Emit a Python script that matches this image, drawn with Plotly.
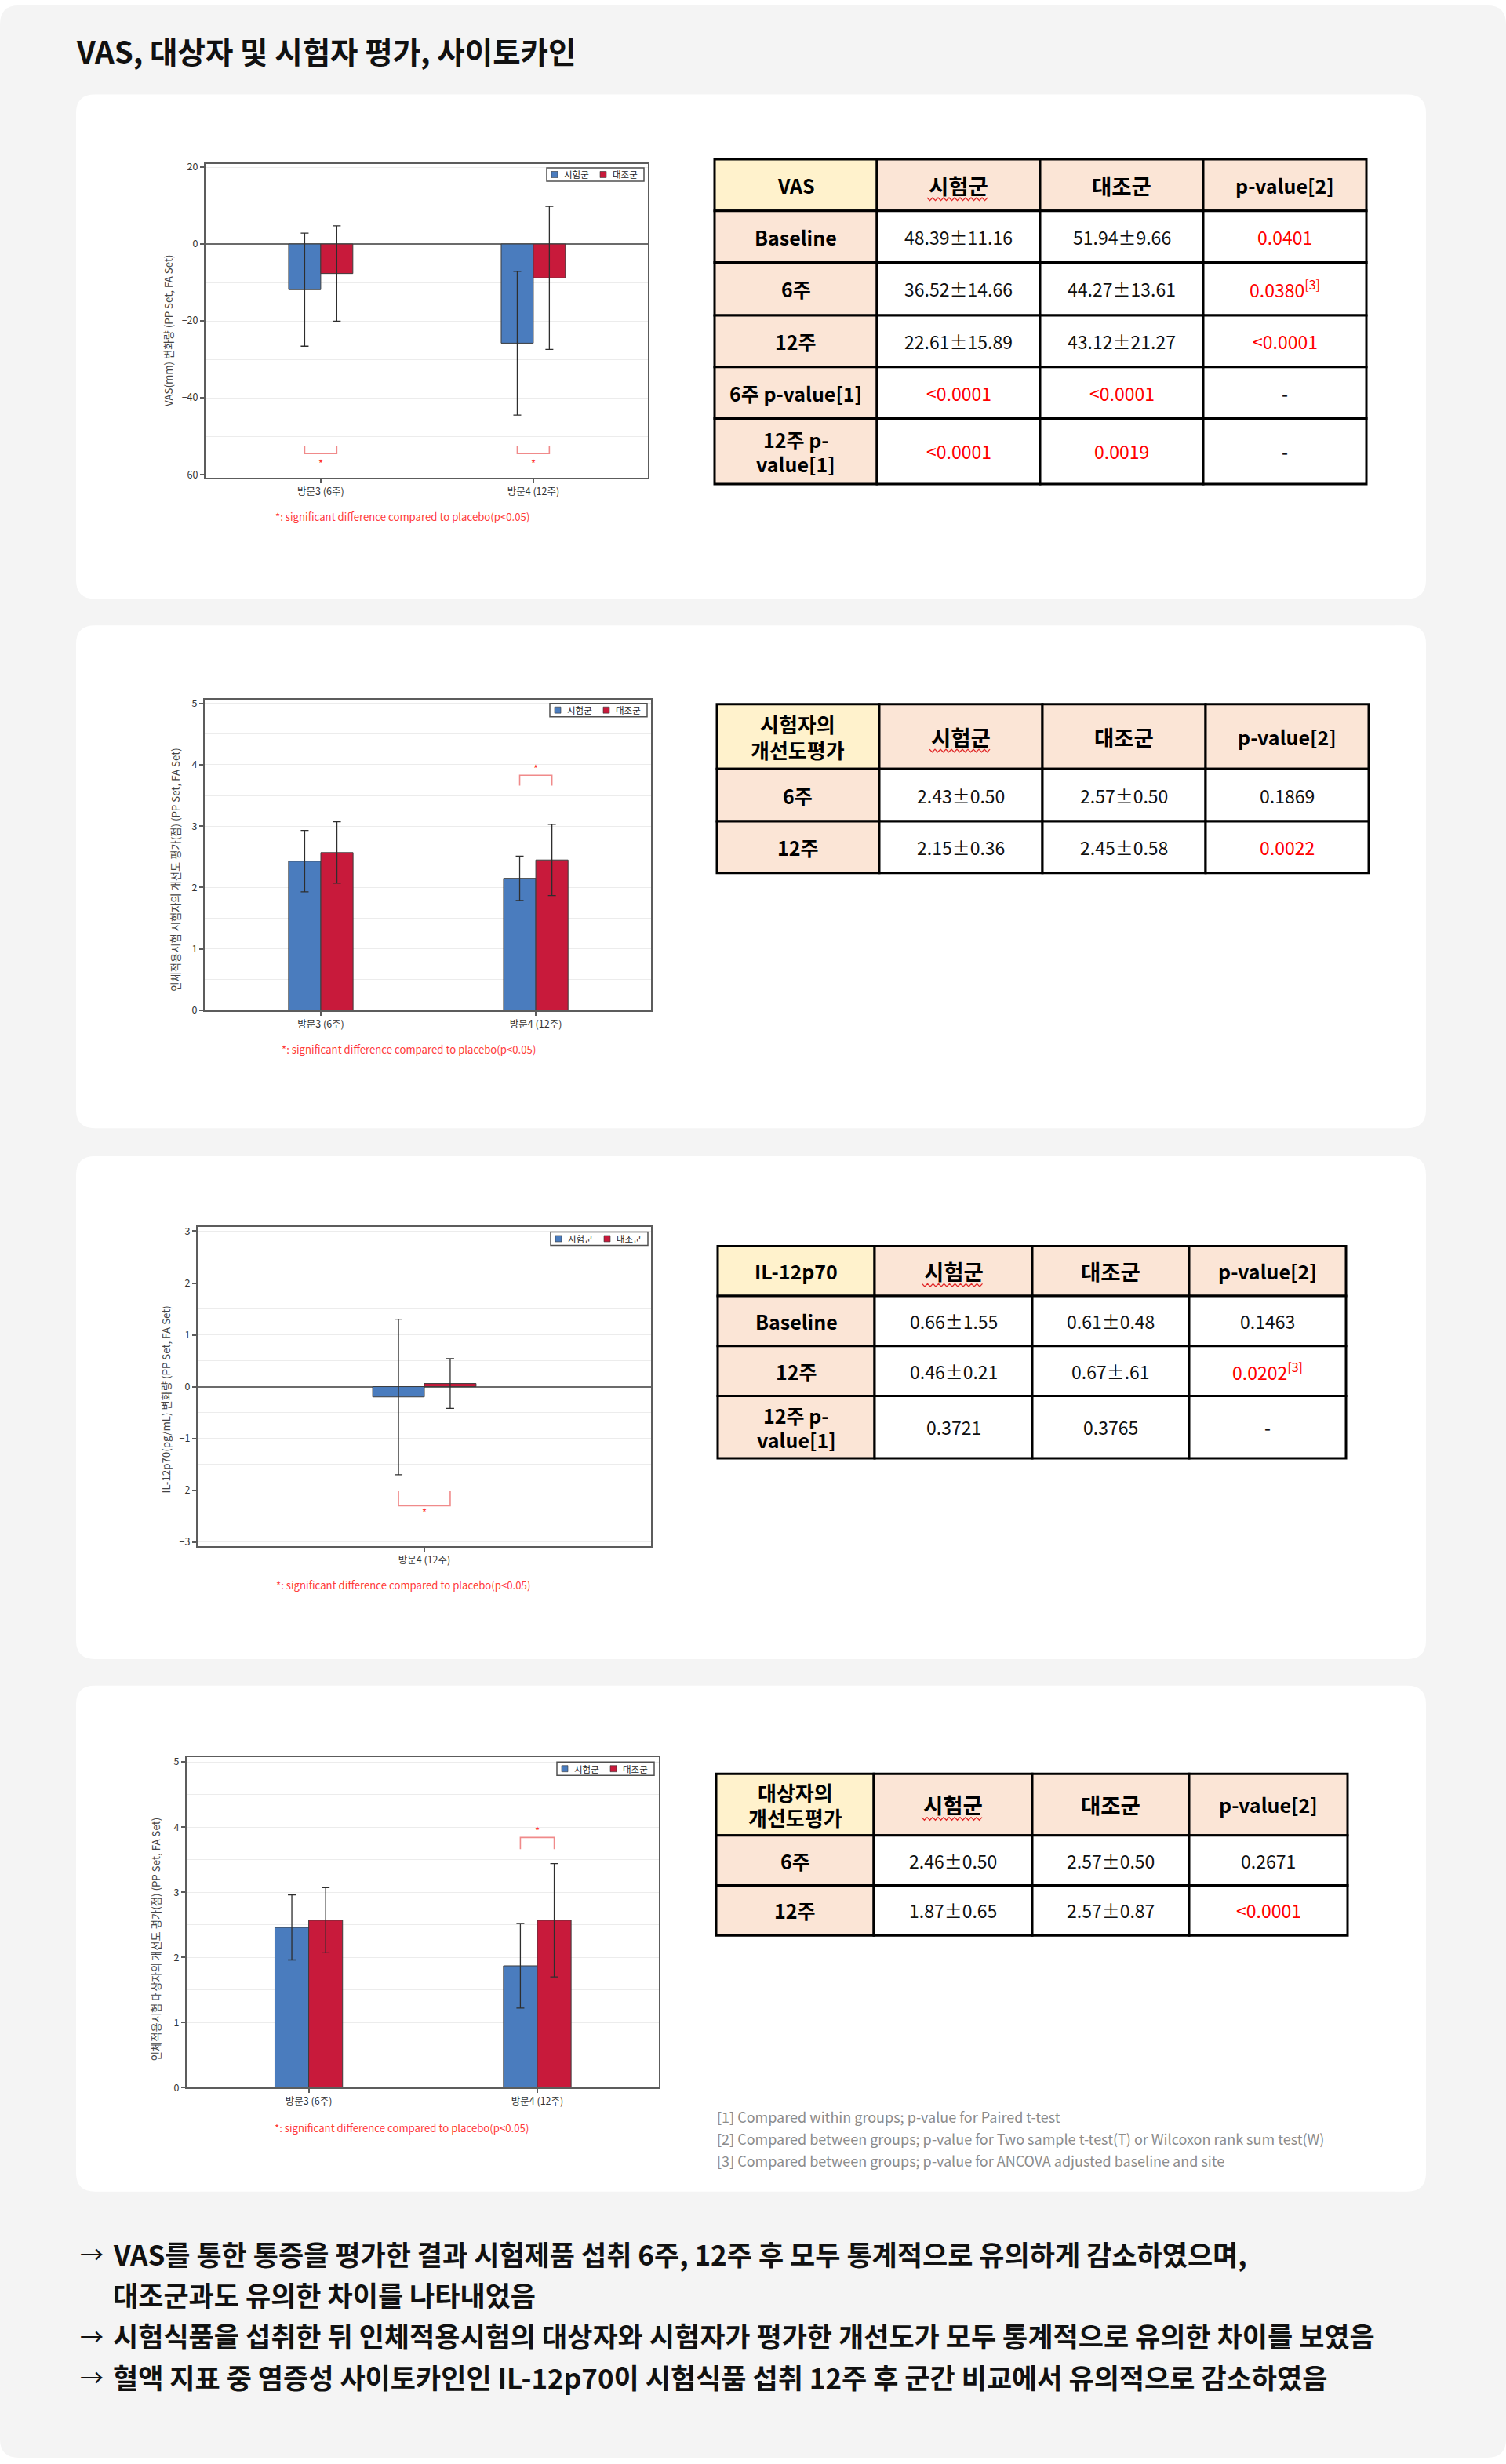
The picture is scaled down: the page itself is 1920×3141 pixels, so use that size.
import re
import plotly.graph_objects as go

W, H = 1920, 3141
FONT = 'Noto Sans CJK KR'

# ---------------------------------------------------------------- data
GROUPS = ['시험군', '대조군']

# VAS change from baseline (mm)
VAS_CATS = ['방문3 (6주)', '방문4 (12주)']
VAS_TEST = [-11.87, -25.78]
VAS_TEST_SD = [14.7, 18.7]
VAS_CTRL = [-7.67, -8.82]
VAS_CTRL_SD = [12.4, 18.6]
VAS_SIG = [0, 1]
VAS_SIG_Y = [-52.5, -54.5, -57.0]        # bracket arm end, bracket bar, star

# investigator improvement score
INV_CATS = ['방문3 (6주)', '방문4 (12주)']
INV_TEST = [2.43, 2.15]
INV_TEST_SD = [0.50, 0.36]
INV_CTRL = [2.57, 2.45]
INV_CTRL_SD = [0.50, 0.58]
INV_SIG = [1]
INV_SIG_Y = [3.66, 3.83, 3.94]

# IL-12p70 change (pg/mL)
IL_CATS = ['방문4 (12주)']
IL_TEST = [-0.20]
IL_TEST_SD = [1.50]
IL_CTRL = [0.06]
IL_CTRL_SD = [0.48]
IL_SIG = [0]
IL_SIG_Y = [-2.02, -2.30, -2.42]

# subject improvement score
SUB_CATS = ['방문3 (6주)', '방문4 (12주)']
SUB_TEST = [2.46, 1.87]
SUB_TEST_SD = [0.50, 0.65]
SUB_CTRL = [2.57, 2.57]
SUB_CTRL_SD = [0.50, 0.87]
SUB_SIG = [1]
SUB_SIG_Y = [3.66, 3.84, 3.95]

# tables
VAS_TBL_HEAD = ['VAS', '시험군', '대조군', 'p-value[2]']
VAS_TBL_ROWS = ['Baseline', '6주', '12주', '6주 p-value[1]', '12주 p-\nvalue[1]']
VAS_TBL_TEST = ['48.39±11.16', '36.52±14.66', '22.61±15.89', '<0.0001', '<0.0001']
VAS_TBL_CTRL = ['51.94±9.66', '44.27±13.61', '43.12±21.27', '<0.0001', '0.0019']
VAS_TBL_P = ['0.0401', '0.0380[3]', '<0.0001', '-', '-']

INV_TBL_HEAD = ['시험자의\n개선도평가', '시험군', '대조군', 'p-value[2]']
INV_TBL_ROWS = ['6주', '12주']
INV_TBL_TEST = ['2.43±0.50', '2.15±0.36']
INV_TBL_CTRL = ['2.57±0.50', '2.45±0.58']
INV_TBL_P = ['0.1869', '0.0022']

IL_TBL_HEAD = ['IL-12p70', '시험군', '대조군', 'p-value[2]']
IL_TBL_ROWS = ['Baseline', '12주', '12주 p-\nvalue[1]']
IL_TBL_TEST = ['0.66±1.55', '0.46±0.21', '0.3721']
IL_TBL_CTRL = ['0.61±0.48', '0.67±.61', '0.3765']
IL_TBL_P = ['0.1463', '0.0202[3]', '-']

SUB_TBL_HEAD = ['대상자의\n개선도평가', '시험군', '대조군', 'p-value[2]']
SUB_TBL_ROWS = ['6주', '12주']
SUB_TBL_TEST = ['2.46±0.50', '1.87±0.65']
SUB_TBL_CTRL = ['2.57±0.50', '2.57±0.87']
SUB_TBL_P = ['0.2671', '<0.0001']

FOOTNOTES = [
    '[1] Compared within groups; p-value for Paired t-test',
    '[2] Compared between groups; p-value for Two sample t-test(T) or Wilcoxon rank sum test(W)',
    '[3] Compared between groups; p-value for ANCOVA adjusted baseline and site',
]
SIG_NOTE = '*: significant difference compared to placebo(p<0.05)'
TITLE = 'VAS, 대상자 및 시험자 평가, 사이토카인'
SUMMARY = [
    ('→', 'VAS를 통한 통증을 평가한 결과 시험제품 섭취 6주, 12주 후 모두 통계적으로 유의하게 감소하였으며,'),
    ('', '대조군과도 유의한 차이를 나타내었음'),
    ('→', '시험식품을 섭취한 뒤 인체적용시험의 대상자와 시험자가 평가한 개선도가 모두 통계적으로 유의한 차이를 보였음'),
    ('→', '혈액 지표 중 염증성 사이토카인인 IL-12p70이 시험식품 섭취 12주 후 군간 비교에서 유의적으로 감소하였음'),
]

# ---------------------------------------------------------------- style / layout
BLUE, RED = '#4a7cbe', '#c81a3b'
COLORS = [BLUE, RED]
AXC = '#5c5c5c'
GRID = '#ececec'
PEACH, YELLOW = '#fbe5d6', '#fff2cc'
PRED = '#ff0000'


def fx(px):
    return px / W


def fy(py):
    return 1 - py / H


CHARTS = [
    dict(cats=VAS_CATS, test=VAS_TEST, tsd=VAS_TEST_SD, ctrl=VAS_CTRL, csd=VAS_CTRL_SD,
         sig=VAS_SIG, sigy=VAS_SIG_Y, box=(262, 203, 826, 605), xr=[-0.542, 1.539],
         yr=[-60.81, 20.81], dtick=20, minor=10, bw=0.151,
         ytitle='VAS(mm) 변화량 (PP Set, FA Set)', yt=(214, 417), foot=(513, 655), leg=(821, 208)),
    dict(cats=INV_CATS, test=INV_TEST, tsd=INV_TEST_SD, ctrl=INV_CTRL, csd=INV_CTRL_SD,
         sig=INV_SIG, sigy=INV_SIG_Y, box=(261, 889, 830, 1287), xr=[-0.540, 1.536],
         yr=[0, 5.064], dtick=1, minor=0.5, bw=0.15,
         ytitle='인체적용시험 시험자의 개선도 평가(점) (PP Set, FA Set)', yt=(224, 1107), foot=(521, 1337), leg=(825, 894)),
    dict(cats=IL_CATS, test=IL_TEST, tsd=IL_TEST_SD, ctrl=IL_CTRL, csd=IL_CTRL_SD,
         sig=IL_SIG, sigy=IL_SIG_Y, box=(252, 1564, 830, 1973), xr=[-0.5, 0.5],
         yr=[-3.075, 3.09], dtick=1, minor=0.5, bw=0.114,
         ytitle='IL-12p70(pg/mL) 변화량 (PP Set, FA Set)', yt=(211, 1786), foot=(514, 2023), leg=(826, 1571)),
    dict(cats=SUB_CATS, test=SUB_TEST, tsd=SUB_TEST_SD, ctrl=SUB_CTRL, csd=SUB_CTRL_SD,
         sig=SUB_SIG, sigy=SUB_SIG_Y, box=(238, 2244, 840, 2667), xr=[-0.534, 1.532],
         yr=[0, 5.07], dtick=1, minor=0.5, bw=0.148,
         ytitle='인체적용시험 대상자의 개선도 평가(점) (PP Set, FA Set)', yt=(198, 2477), foot=(512, 2718), leg=(834, 2250)),
]

TABLES = [
    dict(head=VAS_TBL_HEAD, cols=[VAS_TBL_ROWS, VAS_TBL_TEST, VAS_TBL_CTRL, VAS_TBL_P],
         x0=911, y0=197, cw=[207, 208, 208, 208], rh=[66, 66, 68, 66, 66, 84]),
    dict(head=INV_TBL_HEAD, cols=[INV_TBL_ROWS, INV_TBL_TEST, INV_TBL_CTRL, INV_TBL_P],
         x0=914, y0=895, cw=[207, 208, 208, 208], rh=[83, 67, 66]),
    dict(head=IL_TBL_HEAD, cols=[IL_TBL_ROWS, IL_TBL_TEST, IL_TBL_CTRL, IL_TBL_P],
         x0=915, y0=1589, cw=[200, 201, 200, 200], rh=[64, 64, 64, 80]),
    dict(head=SUB_TBL_HEAD, cols=[SUB_TBL_ROWS, SUB_TBL_TEST, SUB_TBL_CTRL, SUB_TBL_P],
         x0=913, y0=2265, cw=[201, 202, 200, 202], rh=[79, 64, 64]),
]

CARDS = [(97, 114, 1818, 760), (97, 794, 1818, 1438), (97, 1474, 1818, 2118), (97, 2152, 1818, 2800)]


def rrect_path(x0, y0, x1, y1, r):
    segs = [('M', [(x0 + r, y0)]), ('L', [(x1 - r, y0)]), ('Q', [(x1, y0), (x1, y0 + r)]),
            ('L', [(x1, y1 - r)]), ('Q', [(x1, y1), (x1 - r, y1)]), ('L', [(x0 + r, y1)]),
            ('Q', [(x0, y1), (x0, y1 - r)]), ('L', [(x0, y0 + r)]), ('Q', [(x0, y0), (x0 + r, y0)])]
    s = ''
    for cmd, pts in segs:
        s += cmd + ' '.join(f'{fx(a):.6f},{fy(b):.6f}' for a, b in pts) + ' '
    return s + 'Z'


def prect(x0, y0, x1, y1, fill, lc=None, lw=0, layer='above'):
    return dict(type='rect', xref='paper', yref='paper', x0=fx(x0), x1=fx(x1), y0=fy(y1), y1=fy(y0),
                fillcolor=fill, line=dict(color=lc or fill, width=lw), layer=layer)


def esc(s):
    return s.replace('&', '&amp;').replace('<', '&lt;').replace('>', '&gt;')


def is_sig(txt):
    t = txt.strip()
    if '±' in t or t == '-':
        return False
    try:
        return float(t.replace('<', '').split('[')[0]) < 0.05
    except ValueError:
        return False


def hangul_only(txt):
    return not re.search(r'[A-Za-z0-9]', txt)


fig = go.Figure()
shapes, annotations = [], []
layout = {}

# background and cards
shapes.append(dict(type='path', xref='paper', yref='paper', path=rrect_path(0, 0, W, H, 24),
                   fillcolor='#f4f4f4', line=dict(width=0), layer='below'))
for (a, b, c, d) in CARDS:
    shapes.append(dict(type='path', xref='paper', yref='paper', path=rrect_path(a, b, c, d, 24),
                       fillcolor='#ffffff', line=dict(width=0), layer='below'))

# ---------------------------------------------------------------- charts
for i, ch in enumerate(CHARTS, start=1):
    sfx = '' if i == 1 else str(i)
    xa, ya = 'x' + sfx, 'y' + sfx
    xs = list(range(len(ch['cats'])))
    bw = ch['bw']
    for k, (vals, sds, off) in enumerate([(ch['test'], ch['tsd'], -bw), (ch['ctrl'], ch['csd'], 0.0)]):
        fig.add_trace(go.Bar(
            x=xs, y=vals, width=bw, offset=off, name=GROUPS[k],
            marker=dict(color=COLORS[k], line=dict(color='#3c3c3c', width=1)),
            error_y=dict(type='data', array=sds, visible=True, color='#2e2e2e', thickness=1.3, width=5),
            xaxis=xa, yaxis=ya, showlegend=False, hoverinfo='skip'))
    bx, by = [], []
    for s in ch['sig']:
        x0, x1 = s - bw / 2, s + bw / 2
        arm, bar = ch['sigy'][0], ch['sigy'][1]
        bx += [x0, x0, x1, x1, None]
        by += [arm, bar, bar, arm, None]
        annotations.append(dict(xref=xa, yref=ya, x=s, y=ch['sigy'][2], text='*', showarrow=False,
                                xanchor='center', yanchor='middle',
                                font=dict(color='#ff3030', size=13, family=FONT)))
    fig.add_trace(go.Scatter(x=bx, y=by, mode='lines', line=dict(color='#f08a8a', width=1.6),
                             showlegend=False, xaxis=xa, yaxis=ya, hoverinfo='skip'))
    l, t, r, b = ch['box']
    tickfont = dict(size=12.5, color='#333333', family=FONT)
    layout['xaxis' + sfx] = dict(
        domain=[fx(l), fx(r)], anchor=ya, range=ch['xr'], tickmode='array', tickvals=xs,
        ticktext=ch['cats'], showline=True, mirror=True, linecolor=AXC, linewidth=2,
        ticks='outside', ticklen=5, tickwidth=1.5, tickcolor=AXC, showgrid=False, zeroline=False,
        tickfont=tickfont, fixedrange=True)
    layout['yaxis' + sfx] = dict(
        domain=[fy(b), fy(t)], anchor=xa, range=ch['yr'], tickmode='linear', tick0=0,
        dtick=ch['dtick'], showgrid=True, gridcolor=GRID, gridwidth=1,
        minor=dict(dtick=ch['minor'], showgrid=True, gridcolor=GRID, gridwidth=1),
        zeroline=True, zerolinecolor='#6b6b6b', zerolinewidth=2, showline=True, mirror=True,
        linecolor=AXC, linewidth=2, ticks='outside', ticklen=5, tickwidth=1.5, tickcolor=AXC,
        tickfont=tickfont, fixedrange=True)
    # legend box (top right, inside the frame)
    R, T = ch['leg']
    shapes.append(prect(R - 124, T, R, T + 17, '#ffffff', '#505050', 1.5))
    for k, (sq, tx) in enumerate([(118, 104), (56, 42)]):
        shapes.append(prect(R - sq, T + 4.5, R - sq + 8, T + 12.5, COLORS[k], '#333333', 0.6))
        annotations.append(dict(xref='paper', yref='paper', x=fx(R - tx), y=fy(T + 8.5),
                                text=GROUPS[k], showarrow=False, xanchor='left', yanchor='middle',
                                font=dict(size=11.5, color='#222222', family=FONT)))
    annotations.append(dict(xref='paper', yref='paper', x=fx(ch['yt'][0]), y=fy(ch['yt'][1]),
                            text=esc(ch['ytitle']), textangle=-90, showarrow=False,
                            xanchor='center', yanchor='middle',
                            font=dict(size=13.3, color='#444444', family=FONT)))
    annotations.append(dict(xref='paper', yref='paper', x=fx(ch['foot'][0]), y=fy(ch['foot'][1]),
                            text=esc(SIG_NOTE), showarrow=False, xanchor='center', yanchor='middle',
                            font=dict(size=13.2, color='#ff3b3b', family=FONT)))

# ---------------------------------------------------------------- tables
for tb in TABLES:
    xe = [tb['x0']]
    for w in tb['cw']:
        xe.append(xe[-1] + w)
    ye = [tb['y0']]
    for h in tb['rh']:
        ye.append(ye[-1] + h)
    for r in range(len(tb['rh'])):
        for c in range(4):
            gap = 31
            if r == 0:
                txt = tb['head'][c]
                fill = YELLOW if c == 0 else PEACH
                bold, color = True, '#000000'
                if '\n' in txt:
                    size, gap = 26, 33
                else:
                    size = 27.5 if hangul_only(txt) else 25
            else:
                txt = tb['cols'][c][r - 1]
                fill = PEACH if c == 0 else '#ffffff'
                if c == 0:
                    bold, size, color = True, 25, '#000000'
                else:
                    bold, size = False, 23
                    color = PRED if is_sig(txt) else '#111111'
            shapes.append(prect(xe[c], ye[r], xe[c + 1], ye[r + 1], fill, '#000000', 3))
            lines = txt.split('\n')
            cy = (ye[r] + ye[r + 1]) / 2
            for j, ln in enumerate(lines):
                html = esc(ln)
                if r > 0 and c > 0:
                    html = html.replace('[3]', '<sup>[3]</sup>')
                if bold:
                    html = '<b>' + html + '</b>'
                yy = cy + (j - (len(lines) - 1) / 2) * gap
                annotations.append(dict(xref='paper', yref='paper', x=fx((xe[c] + xe[c + 1]) / 2),
                                        y=fy(yy), text=html, showarrow=False,
                                        xanchor='center', yanchor='middle',
                                        font=dict(size=size, color=color, family=FONT)))
    # spell-check style wavy underline below the 시험군 header
    cx = (xe[1] + xe[2]) / 2
    wy = (ye[0] + ye[1]) / 2 + 18
    pts = []
    xw = cx - 40
    k = 0
    while xw <= cx + 40:
        pts.append((xw, wy + (1.8 if k % 2 else -1.8)))
        xw += 3.5
        k += 1
    path = 'M' + ' L'.join(f'{fx(a):.6f},{fy(b):.6f}' for a, b in pts)
    shapes.append(dict(type='path', xref='paper', yref='paper', path=path,
                       line=dict(color='#e02828', width=1.3), layer='above'))

# footnotes
for j, txt in enumerate(FOOTNOTES):
    annotations.append(dict(xref='paper', yref='paper', x=fx(912), y=fy(2704 + 28 * j),
                            text=esc(txt), showarrow=False, xanchor='left', yanchor='middle',
                            font=dict(size=18, color='#8c8c8c', family=FONT)))

# title
annotations.append(dict(xref='paper', yref='paper', x=fx(95), y=fy(57), text='<b>' + esc(TITLE) + '</b>',
                        showarrow=False, xanchor='left', yanchor='middle',
                        font=dict(size=38.5, color='#111111', family=FONT)))

# summary lines
for j, (arrow, txt) in enumerate(SUMMARY):
    yy = fy([2879, 2931, 2984, 3037][j])
    if arrow:
        annotations.append(dict(xref='paper', yref='paper', x=fx(100), y=yy, text=arrow,
                                showarrow=False, xanchor='left', yanchor='middle',
                                font=dict(size=30, color='#111111', family=FONT)))
    annotations.append(dict(xref='paper', yref='paper', x=fx(142), y=yy, text='<b>' + esc(txt) + '</b>',
                            showarrow=False, xanchor='left', yanchor='middle',
                            font=dict(size=35, color='#111111', family=FONT)))

fig.update_layout(
    width=W, height=H, margin=dict(l=0, r=0, t=0, b=0, pad=0),
    paper_bgcolor='#ffffff', plot_bgcolor='#ffffff',
    barmode='overlay', shapes=shapes, annotations=annotations,
    font=dict(family=FONT), showlegend=False, **layout)

fig.write_html("out.html", config={'displayModeBar': False},
               post_script="document.body.style.margin='0';document.body.style.overflow='hidden';")
